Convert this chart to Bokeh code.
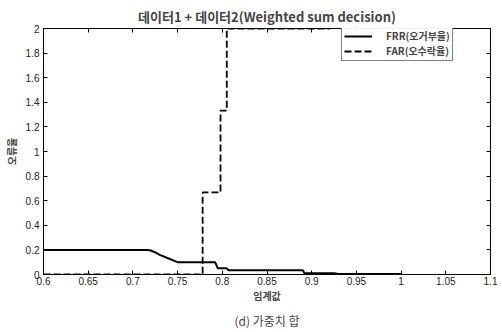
from bokeh.plotting import figure
from bokeh.models import Range1d, LinearAxis, Title, Legend, LegendItem, FixedTicker
from bokeh.embed import file_html
from bokeh.resources import INLINE

title_text = "데이터1 + 데이터2(Weighted sum decision)"
x_label = "임계값"
y_label = "오류율"
caption = "(d) 가중치 합"

frr_x = [0.6, 0.65, 0.7, 0.716, 0.72, 0.725, 0.73, 0.74, 0.75, 0.77, 0.792, 0.795, 0.805, 0.807, 0.85, 0.89, 0.892, 0.925, 0.93, 0.96, 1.0]
frr_y = [0.2, 0.2, 0.2, 0.2, 0.195, 0.18, 0.16, 0.13, 0.1, 0.1, 0.1, 0.05, 0.05, 0.035, 0.035, 0.035, 0.01, 0.01, 0.005, 0.005, 0.005]

far_x = [0.6, 0.778, 0.778, 0.798, 0.798, 0.805, 0.805, 0.92, 0.92, 1.0]
far_y = [0.0, 0.0, 0.667, 0.667, 1.333, 1.333, 2.0, 2.0, 2.667, 2.667]

x_ticks = [0.6, 0.65, 0.7, 0.75, 0.8, 0.85, 0.9, 0.95, 1.0, 1.05, 1.1]
y_ticks = [0, 0.2, 0.4, 0.6, 0.8, 1.0, 1.2, 1.4, 1.6, 1.8, 2.0]

FONT = "Liberation Sans"
KFONT = "Noto Sans CJK KR"

p = figure(width=502, height=332, output_backend="svg", toolbar_location=None,
           x_range=Range1d(0.6, 1.1), y_range=Range1d(0, 2),
           min_border_left=43, min_border_right=12, min_border_top=28, min_border_bottom=55)
p.background_fill_color = "white"
p.border_fill_color = "white"
p.outline_line_color = "black"
p.outline_line_width = 1
p.grid.visible = False

p.title.text = title_text
p.title.align = "center"
p.title.text_font = KFONT
p.title.text_font_size = "13px"
p.title.text_font_style = "bold"
p.title.standoff = 6

for ax in [p.xaxis[0], p.yaxis[0]]:
    ax.major_tick_in = 4
    ax.major_tick_out = 0
    ax.minor_tick_in = 0
    ax.minor_tick_out = 0
    ax.axis_line_color = "black"
    ax.major_label_text_font = FONT
    ax.major_label_text_font_size = "10px"
    ax.major_label_text_color = "#222222"
    ax.axis_label_text_font = KFONT
    ax.axis_label_text_font_size = "10px"
    ax.axis_label_text_font_style = "bold"

p.xaxis[0].ticker = FixedTicker(ticks=x_ticks)
p.yaxis[0].ticker = FixedTicker(ticks=y_ticks)
p.xaxis[0].major_label_overrides = {0.6: "0.6", 0.65: "0.65", 0.7: "0.7", 0.75: "0.75", 0.8: "0.8",
                                    0.85: "0.85", 0.9: "0.9", 0.95: "0.95", 1.0: "1", 1.05: "1.05", 1.1: "1.1"}
p.yaxis[0].major_label_overrides = {0: "0", 1.0: "1", 2.0: "2"}
p.xaxis[0].axis_label = x_label
p.xaxis[0].axis_label_standoff = 0
p.xaxis[0].major_label_standoff = 2
p.yaxis[0].axis_label = y_label
p.yaxis[0].axis_label_standoff = 4
p.yaxis[0].major_label_standoff = 4

for loc in ["above", "right"]:
    ax = LinearAxis(ticker=FixedTicker(ticks=x_ticks if loc == "above" else y_ticks))
    ax.major_tick_in = 4
    ax.major_tick_out = 0
    ax.minor_tick_in = 0
    ax.minor_tick_out = 0
    ax.major_label_text_font_size = "0px"
    ax.major_label_standoff = 0
    p.add_layout(ax, loc)

cap = Title(text=caption, align="center", text_font=KFONT, text_font_size="12px",
            text_font_style="normal", standoff=8)
p.add_layout(cap, "below")

frr_line = p.line(frr_x, frr_y, line_color="black", line_width=2)
frr_pts = p.scatter(x=[], y=[], marker="plus", size=5, line_color="black")
far_line = p.line(far_x, far_y, line_color="black", line_width=1.8, line_dash="7 3")

legend = Legend(items=[LegendItem(label="FRR(오거부율)", renderers=[frr_line, frr_pts]),
                       LegendItem(label="FAR(오수락율)", renderers=[far_line])],
                location=(298, 213))
legend.label_text_font = KFONT
legend.label_text_font_size = "10px"
legend.label_text_font_style = "bold"
legend.border_line_color = "black"
legend.border_line_width = 1
legend.margin = 0
legend.padding = 2
legend.spacing = 0
legend.glyph_height = 8
legend.label_height = 8
legend.glyph_width = 28
legend.label_standoff = 14
p.add_layout(legend)

open("out.html", "w").write(file_html(p, INLINE))
